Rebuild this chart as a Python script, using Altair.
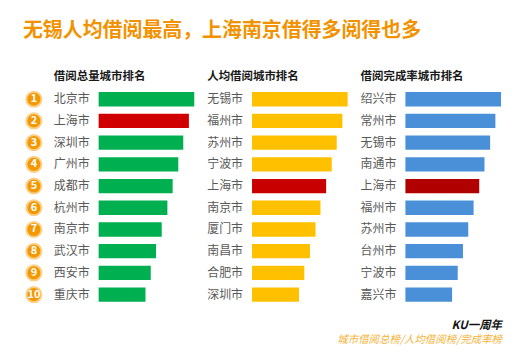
import altair as alt
import pandas as pd

title_text = "无锡人均借阅最高，上海南京借得多阅得也多"
headers = ["借阅总量城市排名", "人均借阅城市排名", "借阅完成率城市排名"]
ranks = list(range(1, 11))
cities_total = ["北京市", "上海市", "深圳市", "广州市", "成都市", "杭州市", "南京市", "武汉市", "西安市", "重庆市"]
values_total = [100, 94.4, 88.5, 83.3, 77.4, 71.9, 66.0, 60.0, 54.5, 49.0]
cities_per = ["无锡市", "福州市", "苏州市", "宁波市", "上海市", "南京市", "厦门市", "南昌市", "合肥市", "深圳市"]
values_per = [100, 94.5, 88.6, 83.4, 77.5, 71.6, 66.4, 60.6, 54.7, 49.1]
cities_rate = ["绍兴市", "常州市", "无锡市", "南通市", "上海市", "福州市", "苏州市", "台州市", "宁波市", "嘉兴市"]
values_rate = [100, 94.1, 88.6, 82.7, 77.2, 71.3, 65.7, 60.2, 54.7, 48.8]
highlight_city = "上海市"
footer_title = "KU一周年"
footer_sub = "城市借阅总榜/人均借阅榜/完成率榜"

FONT = "Noto Sans CJK SC"
base_colors = ["#00B050", "#FFC000", "#4A90D9"]
hi_colors = ["#D00000", "#C80000", "#B00000"]

rows = []
for p, (cities, vals) in enumerate([(cities_total, values_total), (cities_per, values_per), (cities_rate, values_rate)]):
    for r, c, v in zip(ranks, cities, vals):
        kind = f"p{p}h" if c == highlight_city else f"p{p}"
        rows.append({"panel": p, "header": headers[p], "rank": r, "city": c, "value": v, "kind": kind})
df = pd.DataFrame(rows)

kind_domain = [f"p{p}" for p in range(3)] + [f"p{p}h" for p in range(3)]
kind_range = base_colors + hi_colors

y = alt.Y("rank:O", scale=alt.Scale(paddingInner=0.34, paddingOuter=0.17), axis=None)
base = alt.Chart(df)

bars = base.mark_bar().encode(
    x=alt.X("value:Q", scale=alt.Scale(domain=[0, 100], range=[45, 141]), axis=None),
    y=y,
    color=alt.Color("kind:N", scale=alt.Scale(domain=kind_domain, range=kind_range), legend=None),
)

labels = base.mark_text(align="left", baseline="middle", fontSize=12, font=FONT, color="#595959").encode(
    x=alt.value(0), y=y, text="city:N"
)

heads = base.transform_filter("datum.rank == 1").mark_text(
    align="left", baseline="middle", fontSize=11.5, fontWeight="bold", font=FONT, color="#1a1a1a"
).encode(x=alt.value(0), y=alt.value(-11), text="header:N")

circles = base.transform_filter("datum.panel == 0").mark_point(
    filled=True, shape="circle", size=230, color="#F39800", stroke="#FAD08A", strokeWidth=2, opacity=1
).encode(x=alt.value(-20), y=y)

nums = base.transform_filter("datum.panel == 0").mark_text(
    align="center", baseline="middle", fontSize=11, fontWeight="bold", font=FONT, color="white"
).encode(x=alt.value(-20), y=y, text="rank:N")

title = base.transform_filter("datum.panel == 0 && datum.rank == 1").mark_text(
    align="left", baseline="middle", fontSize=20, fontWeight="bold", font=FONT, color="#F39200", text=title_text
).encode(x=alt.value(-31), y=alt.value(-58))

foot1 = base.transform_filter("datum.panel == 2 && datum.rank == 1").mark_text(
    align="right", baseline="middle", fontSize=11.5, fontWeight="bold", fontStyle="italic", font=FONT,
    color="#111111", text=footer_title
).encode(x=alt.value(142), y=alt.value(238.4))

foot2 = base.transform_filter("datum.panel == 2 && datum.rank == 1").mark_text(
    align="right", baseline="middle", fontSize=10.5, fontStyle="italic", font=FONT,
    color="#F5B335", text=footer_sub
).encode(x=alt.value(142), y=alt.value(252.2))

layered = alt.layer(bars, labels, heads, circles, nums, title, foot1, foot2).properties(width=150, height=218)

chart = layered.facet(
    column=alt.Column("panel:O", header=alt.Header(labels=False, title=None)),
    spacing=4,
    bounds="flush",
).properties(
    padding={"left": 14, "top": 12, "right": 0, "bottom": 0},
    background="white",
).configure_view(stroke=None)

chart.save("out.html", embed_options={"renderer": "svg", "actions": False})
